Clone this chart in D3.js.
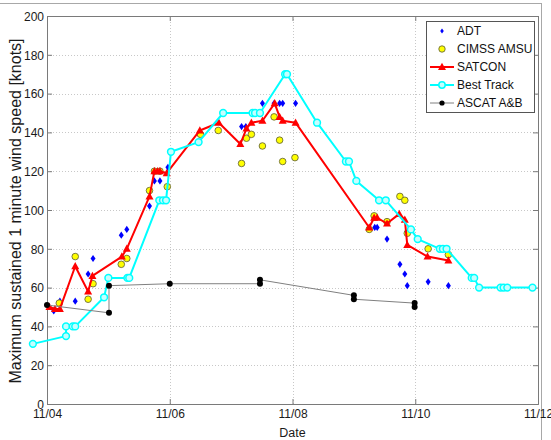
<!DOCTYPE html>
<html>
<head>
<meta charset="utf-8">
<script src="https://cdn.jsdelivr.net/npm/d3@7"></script>
<style>
  html, body { margin: 0; padding: 0; background: #fff; }
  svg { display: block; font-family: "Liberation Sans", Arial, sans-serif; }
</style>
</head>
<body>
<svg id="chart" width="551" height="440"></svg>
<script>
// Intensity estimates for the storm, day of November (UTC, fractional) vs knots
const adtDays = [4.11, 4.21, 4.46, 4.67, 4.75, 5.21, 5.30, 5.67, 5.75, 5.84, 5.97, 7.17, 7.24, 7.51, 7.70, 7.79, 7.84, 8.05, 9.34, 9.38, 9.54, 9.75, 9.83, 9.87, 10.21, 10.54];
const adtKt   = [48, 53, 53, 67, 75, 87, 90, 102, 115, 115, 122, 143, 143, 155, 155, 155, 155, 155, 91, 91, 85, 72, 67, 61, 63, 61];

const amsuDays = [4.20, 4.46, 4.67, 4.75, 5.21, 5.30, 5.67, 5.75, 5.84, 5.96, 6.50, 6.79, 7.17, 7.25, 7.33, 7.51, 7.70, 7.79, 7.84, 8.04, 9.25, 9.33, 9.54, 9.75, 9.83, 9.87, 10.21, 10.54];
const amsuKt   = [52, 76, 54, 62, 72, 75, 110, 120, 120, 112, 139, 141, 124, 137, 139, 133, 148, 136, 125, 127, 90, 97, 94, 107, 105, 88, 80, 77];

const satDays = [4.04, 4.13, 4.21, 4.46, 4.67, 4.74, 5.22, 5.30, 5.67, 5.75, 5.80, 5.84, 5.95, 6.49, 6.80, 7.15, 7.25, 7.33, 7.51, 7.71, 7.79, 7.84, 8.05, 9.25, 9.33, 9.38, 9.54, 9.74, 9.83, 9.87, 10.20, 10.54];
const satKt   = [50, 49, 49, 71, 58, 66, 76, 80, 107, 120, 120, 120, 119, 141, 145, 134, 142, 145, 146, 155, 148, 146, 145, 91, 96, 96, 93, 98, 95, 82, 76, 74];

const bestDays = [3.77, 4.31, 4.31, 4.42, 4.46, 4.93, 5.00, 5.31, 5.34, 5.83, 5.89, 5.94, 6.02, 6.47, 6.87, 7.35, 7.39, 7.47, 7.88, 7.91, 8.40, 8.87, 8.92, 9.04, 9.41, 9.52, 9.93, 10.04, 10.40, 10.45, 10.51, 10.92, 10.96, 11.04, 11.39, 11.44, 11.50, 11.91];
const bestKt   = [31, 35, 40, 40, 40, 55, 65, 65, 65, 105, 105, 105, 130, 135, 150, 150, 150, 150, 170, 170, 145, 125, 125, 115, 105, 105, 90, 85, 80, 80, 80, 65, 65, 60, 60, 60, 60, 60];

const ascatDays = [4.00, 5.01, 5.01, 6.00, 7.47, 7.47, 9.00, 9.00, 9.99, 9.99];
const ascatKt   = [51, 47, 61, 62, 62, 64, 56, 54, 52, 50];

const xTickDays  = [4, 6, 8, 10, 12];
const xTickLabels = ["11/04", "11/06", "11/08", "11/10", "11/12"];
const yTicks = [0, 20, 40, 60, 80, 100, 120, 140, 160, 180, 200];

const seriesNames = ["ADT", "CIMSS AMSU", "SATCON", "Best Track", "ASCAT A&B"];

(function draw() {
  const svg = d3.select("#chart");
  const left = 47, right = 538, plotTop = 16, bottom = 404;
  const DAY = 86400000;
  const toDate = d => new Date(Date.UTC(2013, 9, 31) + d * DAY);

  const x = d3.scaleUtc().domain([toDate(4), toDate(12)]).range([left, right]);
  const y = d3.scaleLinear().domain([0, 200]).range([bottom, plotTop]);

  const zip = (ds, vs) => ds.map((d, i) => ({ t: toDate(d), v: vs[i] }));
  const adt = zip(adtDays, adtKt);
  const amsu = zip(amsuDays, amsuKt);
  const sat = zip(satDays, satKt);
  const best = zip(bestDays, bestKt);
  const ascat = zip(ascatDays, ascatKt);

  // outer frame of the figure window
  svg.append("line").attr("x1", 0).attr("x2", 541).attr("y1", 3.5).attr("y2", 3.5)
    .attr("stroke", "#a8a8a8").attr("stroke-width", 1);
  svg.append("line").attr("x1", 541.5).attr("x2", 541.5).attr("y1", 3).attr("y2", 440)
    .attr("stroke", "#a8a8a8").attr("stroke-width", 1);

  // grid
  const grid = svg.append("g").attr("stroke", "#c8c8c8").attr("stroke-width", 1).attr("stroke-dasharray", "1,2");
  yTicks.filter(v => v > 0 && v < 200).forEach(v => {
    const py = Math.round(y(v)) + 0.5;
    grid.append("line").attr("x1", left).attr("x2", right).attr("y1", py).attr("y2", py);
  });
  xTickDays.filter(d => d > 4 && d < 12).forEach(d => {
    const px = Math.round(x(toDate(d))) + 0.5;
    grid.append("line").attr("x1", px).attr("x2", px).attr("y1", plotTop).attr("y2", bottom);
  });

  // axes: labelled bottom and left, plain box on top and right
  const yAxis = d3.axisLeft(y).tickValues(yTicks).tickSize(-5).tickPadding(3);
  const xAxis = d3.axisBottom(x).tickValues(xTickDays.map(toDate)).tickSize(-5).tickPadding(5)
    .tickFormat((d, i) => xTickLabels[i]);

  const gy = svg.append("g").attr("transform", `translate(${left},0)`).call(yAxis);
  svg.append("g").attr("transform", `translate(0,${bottom})`).call(xAxis);
  svg.append("g").attr("transform", `translate(${right},0)`)
    .call(d3.axisRight(y).tickValues(yTicks).tickSize(-5).tickFormat(""));
  svg.append("g").attr("transform", `translate(0,${plotTop})`)
    .call(d3.axisTop(x).tickValues(xTickDays.map(toDate)).tickSize(-5).tickFormat(""));

  svg.selectAll(".domain").attr("stroke", "#7a7a7a");
  svg.selectAll(".tick line").attr("stroke", "#7a7a7a");
  svg.selectAll(".tick text").attr("fill", "#1a1a1a").style("font-size", "12px")
    .style("font-family", "'Liberation Sans', Arial, sans-serif");
  gy.selectAll(".tick text").attr("dy", "0.36em");

  // axis titles
  svg.append("text").attr("x", x(toDate(8))).attr("y", 437).attr("text-anchor", "middle")
    .style("font-size", "12.5px").attr("fill", "#1a1a1a").text("Date");
  svg.append("text").attr("transform", `translate(21,${(plotTop + bottom) / 2 + 1}) rotate(-90)`)
    .attr("text-anchor", "middle").style("font-size", "16px").attr("fill", "#1a1a1a")
    .text("Maximum sustained 1 minute wind speed [knots]");

  // markers
  const diamond = "M0,-3.6L2.5,0L0,3.6L-2.5,0Z";
  const triangle = "M0,-4.2L4,3L-4,3Z";

  const plot = svg.append("g");

  // ADT
  plot.selectAll(".adt").data(adt).join("path").attr("class", "adt")
    .attr("d", diamond).attr("fill", "#0000ff")
    .attr("transform", d => `translate(${x(d.t)},${y(d.v)})`);

  // CIMSS AMSU
  plot.selectAll(".amsu").data(amsu).join("circle").attr("class", "amsu")
    .attr("cx", d => x(d.t)).attr("cy", d => y(d.v)).attr("r", 3.3)
    .attr("fill", "#ffff00").attr("stroke", "#6b6b3a").attr("stroke-width", 0.9);

  const line = d3.line().x(d => x(d.t)).y(d => y(d.v));

  // SATCON
  plot.append("path").datum(sat).attr("d", line).attr("fill", "none")
    .attr("stroke", "#ff0000").attr("stroke-width", 2).attr("stroke-linejoin", "round");
  plot.selectAll(".sat").data(sat).join("path").attr("class", "sat")
    .attr("d", triangle).attr("fill", "#ff0000")
    .attr("transform", d => `translate(${x(d.t)},${y(d.v)})`);

  // Best Track
  plot.append("path").datum(best).attr("d", line).attr("fill", "none")
    .attr("stroke", "#00ffff").attr("stroke-width", 2).attr("stroke-linejoin", "round");
  plot.selectAll(".best").data(best).join("circle").attr("class", "best")
    .attr("cx", d => x(d.t)).attr("cy", d => y(d.v)).attr("r", 3.4)
    .attr("fill", "#c4ffff").attr("stroke", "#00ffff").attr("stroke-width", 1.5);

  // ASCAT A&B
  plot.append("path").datum(ascat).attr("d", line).attr("fill", "none")
    .attr("stroke", "#808080").attr("stroke-width", 1);
  plot.selectAll(".ascat").data(ascat).join("circle").attr("class", "ascat")
    .attr("cx", d => x(d.t)).attr("cy", d => y(d.v)).attr("r", 3)
    .attr("fill", "#000");

  // legend
  const lg = svg.append("g");
  lg.append("rect").attr("x", 426.5).attr("y", 21.5).attr("width", 108).attr("height", 91)
    .attr("fill", "#fff").attr("stroke", "#555").attr("stroke-width", 1);
  const rowY = i => 31 + i * 18;
  const lx0 = 430, lx1 = 454, lmx = 442;
  seriesNames.forEach((name, i) => {
    const g = lg.append("g");
    const cy = rowY(i);
    if (i === 0) {
      g.append("path").attr("d", "M0,-2.6L1.8,0L0,2.6L-1.8,0Z").attr("fill", "#0000ff")
        .attr("transform", `translate(${lmx},${cy})`);
    } else if (i === 1) {
      g.append("circle").attr("cx", lmx).attr("cy", cy).attr("r", 3.2)
        .attr("fill", "#ffff00").attr("stroke", "#6b6b3a").attr("stroke-width", 0.9);
    } else if (i === 2) {
      g.append("line").attr("x1", lx0).attr("x2", lx1).attr("y1", cy).attr("y2", cy)
        .attr("stroke", "#ff0000").attr("stroke-width", 2);
      g.append("path").attr("d", triangle).attr("fill", "#ff0000").attr("transform", `translate(${lmx},${cy})`);
    } else if (i === 3) {
      g.append("line").attr("x1", lx0).attr("x2", lx1).attr("y1", cy).attr("y2", cy)
        .attr("stroke", "#00ffff").attr("stroke-width", 2);
      g.append("circle").attr("cx", lmx).attr("cy", cy).attr("r", 3.2)
        .attr("fill", "#c4ffff").attr("stroke", "#00ffff").attr("stroke-width", 1.5);
    } else {
      g.append("line").attr("x1", lx0).attr("x2", lx1).attr("y1", cy).attr("y2", cy)
        .attr("stroke", "#808080").attr("stroke-width", 1);
      g.append("circle").attr("cx", lmx).attr("cy", cy).attr("r", 2.6).attr("fill", "#000");
    }
    g.append("text").attr("x", 457).attr("y", cy).attr("dy", "0.36em")
      .style("font-size", "12px").attr("fill", "#111").text(name);
  });
})();
</script>
</body>
</html>
